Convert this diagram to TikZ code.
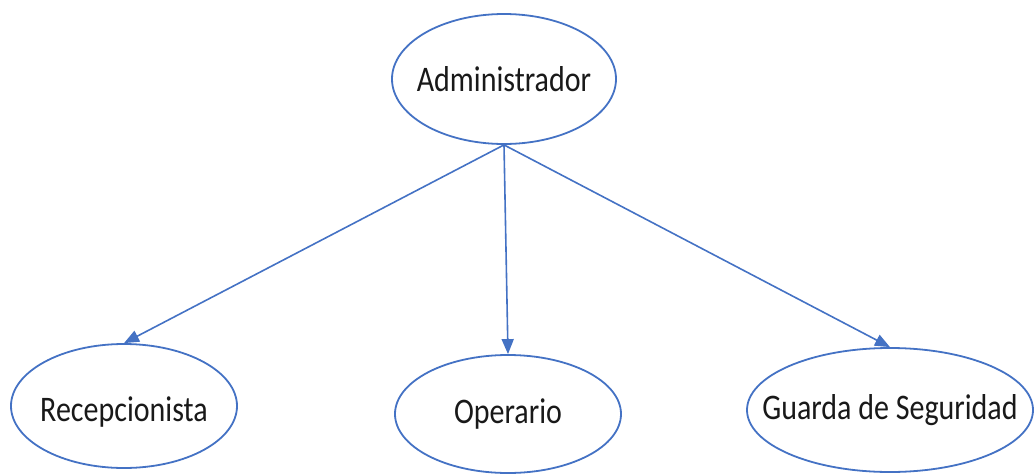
\documentclass[tikz,border=0pt]{standalone}
\usepackage{fontspec}
\setmainfont{Carlito}
\usepackage{tikz}
\usetikzlibrary{shapes.geometric, arrows.meta}
\definecolor{ellblue}{RGB}{68,114,196}
\newcommand{\rolename}[1]{\scalebox{1}[1.2]{#1}}

\tikzset{
	actor/.style = {ellipse, draw=ellblue, line width=1.8pt, inner sep=0pt},
	rolelabel/.style = {text=black!90, font=\fontsize{30}{36}\selectfont},
	link/.style = {draw=ellblue, line width=1.6pt, -{Triangle[length=15pt,width=12pt]}}
}

\begin{document}
\begin{tikzpicture}[x=1pt, y=-1pt]
	\useasboundingbox (0,0) rectangle (1034,474);

	\node[actor, minimum width=224pt, minimum height=130pt,
		label={[rolelabel]center:\rolename{Administrador}}] (admin) at (504,79) {};

	\node[actor, minimum width=226pt, minimum height=124pt,
		label={[rolelabel, yshift=-6pt]center:\rolename{Recepcionista}}] (recep) at (124,406) {};
	\node[actor, minimum width=226pt, minimum height=118pt,
		label={[rolelabel]center:\rolename{Operario}}] (oper) at (508,414) {};
	\node[actor, minimum width=286pt, minimum height=124pt,
		label={[rolelabel]center:\rolename{Guarda de Seguridad}}] (guarda) at (890,410) {};

	\draw[link] (admin.south) -- (recep.north);
	\draw[link] (admin.south) -- (oper.north);
	\draw[link] (admin.south) -- (guarda.north);
\end{tikzpicture}
\end{document}
